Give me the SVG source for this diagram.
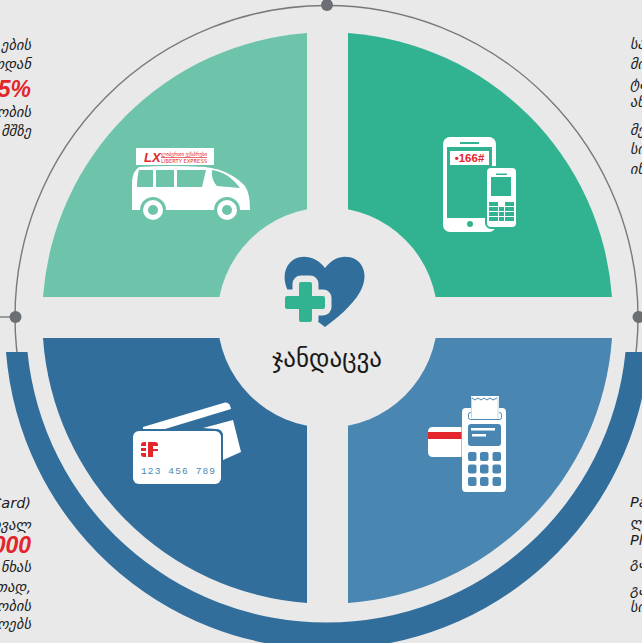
<svg xmlns="http://www.w3.org/2000/svg" width="642" height="643" viewBox="0 0 642 643">
<style>
text{font-family:"DejaVu Sans",sans-serif}
.n{font-size:14.500px;font-style:italic;fill:#1c1c1c}
.e{text-anchor:end}
.big{font-size:23px;font-weight:bold;font-style:italic;fill:#e3262b;text-anchor:end;font-family:"Liberation Sans","DejaVu Sans",sans-serif}
.w{fill:#fff}
.tl{fill:#6dc4aa}.tr{fill:#31b391}.bl{fill:#326e9c}.br{fill:#4a86b2}
.red{fill:#e3262b}
.dot{fill:#6b6e72}
</style>
<rect width="642" height="643" fill="#e9e9e9"/>
<g id="connectors">
<circle cx="326.5" cy="317" r="311.5" fill="none" stroke="#77797c" stroke-width="1.4"/>
<path d="M0 317H15" stroke="#77797c" stroke-width="1.4"/>
<path class="bl" d="M6 352A322.5 322.5 0 0 0 649 352H625.500A300.500 300.500 0 0 1 27.500 352Z"/>
<circle class="dot" cx="327" cy="5" r="6"/>
<circle class="dot" cx="15.500" cy="317" r="6"/>
<circle class="dot" cx="638.500" cy="317" r="6"/>
</g>
<g id="quadrant-transport">
<path class="tl" d="M307 33A285.500 285.500 0 0 0 43 297H307Z"/>
<path class="w" d="M132 210V181Q133 171 139 167Q170 165 205 167Q230 170 245 186Q250 193 250 210Z"/>
<path class="tl" d="M139 170H153V187H137Q137 176 139 170ZM156 170H174V187H156ZM177 170H206L202 187H177ZM212 170Q228 172 240 188L217 186Q211 180 212 170Z"/>
<circle class="tl" cx="153" cy="210" r="13"/><circle class="tl" cx="227" cy="210" r="13"/>
<circle class="w" cx="153" cy="210" r="10"/><circle class="w" cx="227" cy="210" r="10"/>
<circle class="tl" cx="153" cy="210" r="5"/><circle class="tl" cx="227" cy="210" r="5"/>
<rect class="w" x="136" y="148" width="78" height="17"/>
<text x="144" y="162" font-size="13" font-weight="bold" font-style="italic" class="red" style="font-family:'Liberation Sans',sans-serif">LX</text>
<text x="161" y="156" font-size="5.500" class="red" textLength="46" lengthAdjust="spacingAndGlyphs">ლიბერთი ექსპრესი</text>
<path d="M161 157.500H207" stroke="#e3262b" stroke-width=".7"/>
<text x="161" y="163" font-size="5.500" class="red" textLength="46" lengthAdjust="spacingAndGlyphs">LIBERTY EXPRESS</text>
</g>
<g id="quadrant-mobile">
<path class="tr" d="M348 33A285.500 285.500 0 0 1 612 297H348Z"/>
<rect class="w" x="443" y="137" width="53" height="95" rx="7"/>
<rect class="tr" x="447" y="147" width="45" height="71"/>
<rect class="w" x="450" y="151" width="39" height="14"/>
<text x="469.500" y="162" font-size="11.500" font-weight="bold" class="red" text-anchor="middle" style="font-family:'Liberation Sans',sans-serif">•166#</text>
<rect class="tr" x="460" y="142" width="19" height="2"/>
<circle class="tr" cx="470" cy="224" r="3"/>
<rect class="w" x="486" y="167" width="31" height="61" rx="5" stroke="#31b391" stroke-width="2"/>
<rect class="tr" x="491" y="177" width="20" height="19"/>
<rect class="tr" x="496" y="173.500" width="11" height="1.500"/>
<path class="tr" d="M489 202H498V206H489ZM505 202H514V206H505ZM489 207H498V211H489ZM499 207H504V211H499ZM505 207H514V211H505ZM489 212H498V216H489ZM499 212H504V216H499ZM505 212H514V216H505ZM489 217H498V221H489ZM499 217H504V221H499ZM505 217H514V221H505Z"/>
</g>
<g id="quadrant-card">
<path class="bl" d="M307 603A285.500 285.500 0 0 1 43 338H307Z"/>
<path class="w" d="M143 427L225 402.500Q230 402 231 409L165 429H143Z"/>
<path class="w" d="M203 428L233 420L241 452L223 460V435Q222 429 216 429Z"/>
<rect class="bl" x="131" y="429" width="92" height="57" rx="7"/>
<rect class="w" x="133" y="431" width="88" height="53" rx="6"/>
<path class="red" d="M141 445Q141 442 144 442H146V446H141ZM141 448H146V451H141ZM141 453H146V457H144Q141 457 141 454ZM148 442H155Q158 442 158 445V446H153V449H158V451H153V457H148Z"/>
<text x="141" y="474" font-size="9.500" class="br" textLength="74" style="font-family:'Liberation Mono',monospace">123 456 789</text>
</g>
<g id="quadrant-terminal">
<path class="br" d="M348 603A285.500 285.500 0 0 0 612 338H348Z"/>
<path class="w" d="M433 427H461.500V457H433Q428 457 428 452V432Q428 427 433 427Z"/>
<rect class="red" x="428" y="432" width="33.500" height="7"/>
<rect class="w" x="462" y="408" width="44" height="84" rx="4"/>
<rect x="468.500" y="412.500" width="33" height="7" rx="2" fill="#fff" stroke="#4a86b2" stroke-width="1"/>
<path class="w" d="M471 396H499V418H471Z"/>
<path d="M472 398L475 400L478 398L481 400L484 398L487 400L490 398L493 400L497 398" fill="none" stroke="#4a86b2" stroke-width="1"/>
<path d="M471.500 397V418M498 397V418" stroke="#a9c6dc" stroke-width=".7"/>
<rect class="br" x="468" y="424" width="33" height="22" rx="3"/>
<rect class="w" x="471" y="428" width="24" height="2.500"/>
<rect class="w" x="472" y="434" width="14" height="2.500"/>
<g class="br">
<rect x="468" y="452" width="8.500" height="9" rx="2"/><rect x="480" y="452" width="8.500" height="9" rx="2"/><rect x="492.500" y="452" width="8.500" height="9" rx="2"/>
<rect x="468" y="464.500" width="8.500" height="9" rx="2"/><rect x="480" y="464.500" width="8.500" height="9" rx="2"/><rect x="492.500" y="464.500" width="8.500" height="9" rx="2"/>
<rect x="468" y="477" width="8.500" height="9" rx="2"/><rect x="480" y="477" width="8.500" height="9" rx="2"/><rect x="492.500" y="477" width="8.500" height="9" rx="2"/>
</g>
</g>
<g id="center">
<circle cx="327.500" cy="317.500" r="110" fill="#e9e9e9"/>
<path class="bl" d="M325 268C316 256 302 254 293 260C283 267 282 282 290 294C299 308 313 318 325 327C337 318 352 306 360 292C368 278 365 265 355 259C345 254 333 257 325 268Z"/>
<path d="M301 282H310Q312 282 312 284V296H323Q325 296 325 298V307Q325 309 323 309H312V320Q312 322 310 322H301Q299 322 299 320V309H287Q285 309 285 307V298Q285 296 287 296H299V284Q299 282 301 282Z" fill="#e9e9e9" stroke="#e9e9e9" stroke-width="13" stroke-linejoin="round"/>
<path class="tr" d="M301 282H310Q312 282 312 284V296H323Q325 296 325 298V307Q325 309 323 309H312V320Q312 322 310 322H301Q299 322 299 320V309H287Q285 309 285 307V298Q285 296 287 296H299V284Q299 282 301 282Z"/>
<text x="327" y="367" font-size="25" text-anchor="middle" fill="#1a1a1a">ჯანდაცვა</text>
</g>
<g id="text-left">
<text class="n e" x="31" y="50">ების</text>
<text class="n e" x="31" y="69">ოდან</text>
<text class="big" x="31" y="97">5%</text>
<text class="n e" x="31" y="117">ობის</text>
<text class="n e" x="31" y="136">მშზე</text>
<text class="n e" x="31" y="508">Card)</text>
<text class="n e" x="31" y="530">ოვალ</text>
<text class="big" x="31" y="553">000</text>
<text class="n e" x="31" y="572">ნხას</text>
<text class="n e" x="31" y="592">თად,</text>
<text class="n e" x="31" y="611">ობის</text>
<text class="n e" x="31" y="629">ოებს</text>
</g>
<g id="text-right">
<text class="n" x="630" y="49">სა</text>
<text class="n" x="630" y="69">მი</text>
<text class="n" x="630" y="89">ტა</text>
<text class="n" x="630" y="107">ან</text>
<text class="n" x="630" y="135">მე</text>
<text class="n" x="630" y="154">სი</text>
<text class="n" x="630" y="174">ინ</text>
<text class="n" x="630" y="507">Pa</text>
<text class="n" x="630" y="528">ლი</text>
<text class="n" x="630" y="545">Pl</text>
<text class="n" x="630" y="568">გა</text>
<text class="n" x="630" y="595">გა</text>
<text class="n" x="630" y="612">სი</text>
</g>
</svg>
